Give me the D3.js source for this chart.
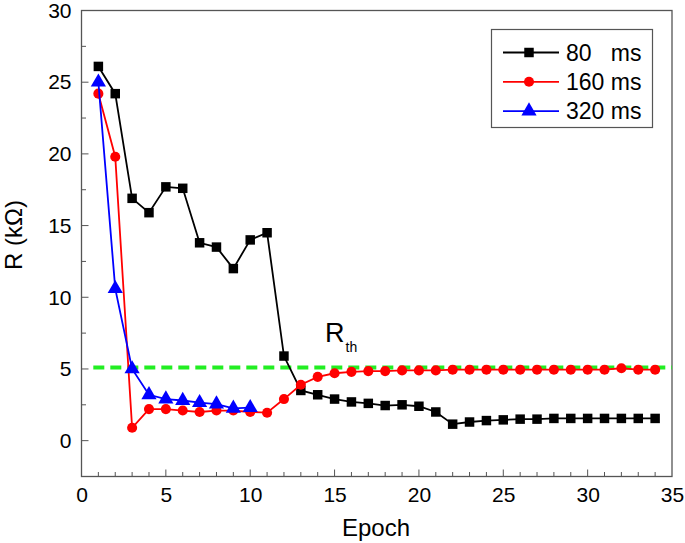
<!DOCTYPE html>
<html><head><meta charset="utf-8">
<script src="https://cdn.jsdelivr.net/npm/d3@7"></script>
<style>body{margin:0;background:#fff}svg{display:block}text{font-family:"Liberation Sans",Arial,sans-serif}</style>
</head><body>
<script>
const epochs80 = d3.range(1, 35);
const r80 = [26.1,24.2,16.9,15.9,17.7,17.6,13.8,13.5,12.0,14.0,14.5,5.9,3.5,3.2,2.9,2.7,2.6,2.45,2.5,2.4,2.0,1.15,1.3,1.4,1.45,1.5,1.5,1.55,1.55,1.55,1.55,1.55,1.55,1.55];
const epochs160 = d3.range(1, 35);
const r160 = [24.2,19.8,0.9,2.2,2.2,2.1,2.0,2.1,2.1,2.0,1.95,2.9,3.9,4.45,4.7,4.8,4.85,4.85,4.9,4.9,4.9,4.95,4.95,4.95,4.95,4.95,4.95,4.95,4.95,4.95,4.95,5.05,4.95,4.95];
const epochs320 = d3.range(1, 11);
const r320 = [25.0,10.6,5.0,3.2,2.9,2.8,2.65,2.55,2.25,2.3];
const rth = 5.1;
const xTicks = [0,5,10,15,20,25,30,35];
const yTicks = [0,5,10,15,20,25,30];
const seriesNames = ["80   ms","160 ms","320 ms"];
const seriesColors = ["#000000","#ff0000","#0000ff"];

const W = 685, H = 543;
const svg = d3.select("body").append("svg").attr("width", W).attr("height", H);
const L = 81.5, R = 672, T = 10.5, B = 476.5;
const x = d3.scaleLinear().domain([0,35]).range([L,R]);
const y = d3.scaleLinear().domain([-2.5,30]).range([B,T]);
const FONT = "Liberation Sans, Arial, sans-serif";

// minor ticks
const tickG = svg.append("g").attr("stroke","#555").attr("stroke-width",1);
d3.range(1,35).forEach(v=>{
  const major = v%5===0;
  tickG.append("line").attr("x1",x(v)).attr("x2",x(v)).attr("y1",B).attr("y2",B-(major?7:4.5));
});
d3.range(0,30,2.5).forEach(v=>{
  const major = v%5===0;
  tickG.append("line").attr("x1",L).attr("x2",L+(major?7:4.5)).attr("y1",y(v)).attr("y2",y(v));
});
// axes using d3 axis for labels
const xAxis = svg.append("g").attr("transform",`translate(0,${B})`)
  .call(d3.axisBottom(x).tickValues(xTicks).tickSize(0).tickPadding(11));
xAxis.select(".domain").remove();
xAxis.selectAll("text").attr("font-size",21).attr("fill","#000").attr("font-family",FONT);
const yAxis = svg.append("g").attr("transform",`translate(${L},0)`)
  .call(d3.axisLeft(y).tickValues(yTicks).tickSize(0).tickPadding(10));
yAxis.select(".domain").remove();
yAxis.selectAll("text").attr("font-size",21).attr("fill","#000").attr("font-family",FONT);

// frame
svg.append("rect").attr("x",L).attr("y",T).attr("width",R-L).attr("height",B-T)
  .attr("fill","none").attr("stroke","#555").attr("stroke-width",1.3);

// threshold line
svg.append("line").attr("x1",x(0.7)).attr("x2",R).attr("y1",y(rth)).attr("y2",y(rth))
  .attr("stroke","#22ee22").attr("stroke-width",4).attr("stroke-dasharray","11,6");

const line = d3.line().x(d=>x(d[0])).y(d=>y(d[1]));
const sym = [d3.symbolSquare, d3.symbolCircle, d3.symbolTriangle];
const symSize = [90, 80, 100];
const data = [
  epochs80.map((e,i)=>[e,r80[i]]),
  epochs160.map((e,i)=>[e,r160[i]]),
  epochs320.map((e,i)=>[e,r320[i]])
];
data.forEach((d,k)=>{
  svg.append("path").datum(d).attr("d",line).attr("fill","none")
    .attr("stroke",seriesColors[k]).attr("stroke-width",1.8);
  svg.append("g").selectAll("path").data(d).join("path")
    .attr("transform",p=>`translate(${x(p[0])},${y(p[1])})`)
    .attr("d",d3.symbol().type(sym[k]).size(symSize[k]))
    .attr("fill",seriesColors[k]);
});

// R_th label
const rl = svg.append("text").attr("x",325).attr("y",341.5).attr("font-size",27).attr("fill","#000");
rl.append("tspan").text("R");
rl.append("tspan").attr("font-size",14).attr("dy",10).attr("dx",1).text("th");

// axis titles
svg.append("text").attr("x",376).attr("y",536).attr("text-anchor","middle").attr("font-size",24).text("Epoch");
svg.append("text").attr("transform","translate(22,235) rotate(-90)").attr("text-anchor","middle").attr("font-size",24).text("R (kΩ)");

// legend
const lg = svg.append("g");
lg.append("rect").attr("x",491.5).attr("y",29.5).attr("width",161).attr("height",98)
  .attr("fill","#fff").attr("stroke","#555").attr("stroke-width",1.2);
seriesNames.forEach((n,k)=>{
  const yy = 52.5 + k*29.3;
  lg.append("line").attr("x1",503).attr("x2",559).attr("y1",yy).attr("y2",yy)
    .attr("stroke",seriesColors[k]).attr("stroke-width",1.8);
  lg.append("path").attr("transform",`translate(529,${yy})`)
    .attr("d",d3.symbol().type(sym[k]).size(symSize[k])).attr("fill",seriesColors[k]);
  lg.append("text").attr("x",566).attr("y",yy+8.3).attr("font-size",23)
    .style("white-space","pre").text(n);
});
</script>
</body></html>
